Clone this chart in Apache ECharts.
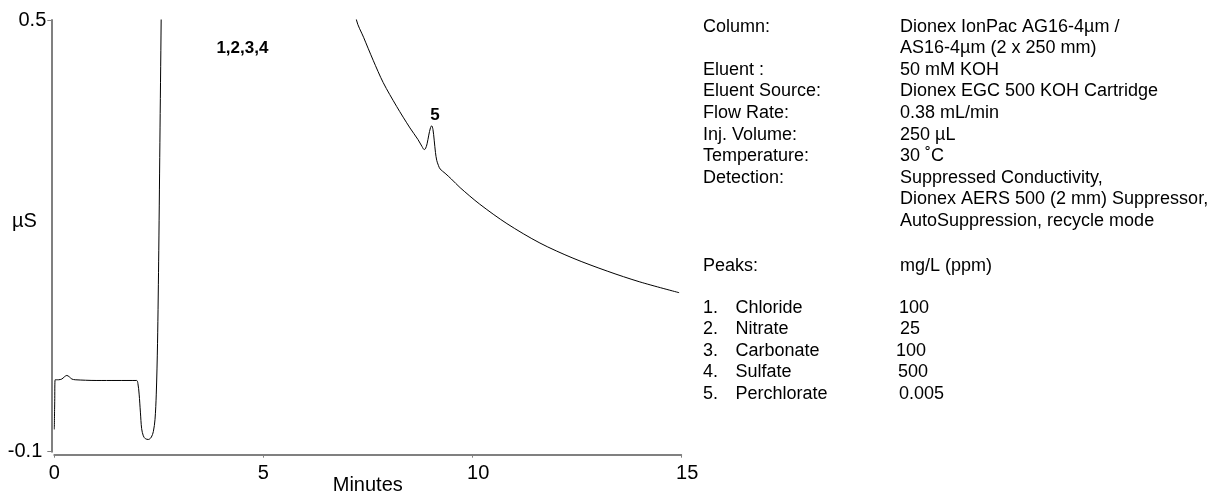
<!DOCTYPE html>
<html>
<head>
<meta charset="utf-8">
<script src="https://cdn.jsdelivr.net/npm/echarts@6/dist/echarts.min.js"></script>
<style>
  html, body { margin: 0; padding: 0; background: #fff; }
  #chart { width: 1210px; height: 493px; }
</style>
</head>
<body>
<div id="chart"></div>
<script>
// Retention time (min) and suppressed conductivity (µS) of the chromatogram trace
const minutes = [
  0.00, 0.01, 0.02, 0.10, 0.18, 0.24, 0.30, 0.36, 0.42, 0.50, 1.00, 1.50, 1.97,
  2.00, 2.03, 2.06, 2.09, 2.13, 2.18, 2.25, 2.32, 2.37, 2.41, 2.44, 2.47, 2.50, 2.53, 2.56,
  2.60, 2.70, 4.00, 6.50, 7.10,
  7.23, 7.40, 7.63, 7.87, 8.19, 8.51, 8.70, 8.80, 8.85, 8.88, 8.92, 8.96, 9.00, 9.03,
  9.06, 9.09, 9.12, 9.15, 9.19, 9.23, 9.35, 9.50, 9.71, 10.18, 10.83, 11.62, 12.41,
  13.23, 14.01, 14.95
];
const microSiemens = [
  -0.069, -0.030, 0.000, 0.000, 0.001, 0.004, 0.006, 0.004, 0.001, 0.000, -0.001, -0.001, -0.001,
  -0.005, -0.020, -0.045, -0.068, -0.078, -0.082, -0.083, -0.080, -0.072, -0.055, -0.020, 0.050, 0.180, 0.350, 0.520,
  0.800, 1.500, 3.000, 1.000, 0.560,
  0.500, 0.476, 0.444, 0.413, 0.380, 0.350, 0.334, 0.324, 0.320, 0.321, 0.328, 0.340, 0.350, 0.353,
  0.348, 0.333, 0.316, 0.305, 0.298, 0.293, 0.287, 0.279, 0.267, 0.244, 0.217, 0.190, 0.169,
  0.151, 0.136, 0.121
];

// Axis tick labels
const timeTicks = [0, 5, 10, 15];
const signalTicks = [-0.1, 0.5];

// Peak annotations: label, retention time, height
const peakTags = ['1,2,3,4', '5'];
const peakTagTimes = [4.50, 9.11];
const peakTagHeights = [0.461, 0.368];

// Method conditions
const conditionNames = [
  'Column:', '', 'Eluent :', 'Eluent Source:', 'Flow Rate:', 'Inj. Volume:',
  'Temperature:', 'Detection:', '', ''
];
const conditionValues = [
  'Dionex IonPac AG16-4µm /', 'AS16-4µm (2 x 250 mm)', '50 mM KOH',
  'Dionex EGC 500 KOH Cartridge', '0.38 mL/min', '250 µL', '30 ˚C',
  'Suppressed Conductivity,', 'Dionex AERS 500 (2 mm) Suppressor,',
  'AutoSuppression, recycle mode'
];

// Peak table
const peakNumbers = ['1.', '2.', '3.', '4.', '5.'];
const peakNames = ['Chloride', 'Nitrate', 'Carbonate', 'Sulfate', 'Perchlorate'];
const peakAmounts = ['100', '25', '100', '500', '0.005'];

const FONT = '"Liberation Sans", Arial, sans-serif';
const AXIS_GREY = '#808080';

const trace = minutes.map((t, i) => [t, microSiemens[i]]);

const chart = echarts.init(document.getElementById('chart'), null, { renderer: 'canvas' });

// Text block to the right of the plot
const textEls = [];
const txt = (s, x, y, extra) => textEls.push({
  type: 'text', x: x, y: y, silent: true,
  style: Object.assign({ text: s, fill: '#000', font: '18px ' + FONT, verticalAlign: 'middle', align: 'left' }, extra || {})
});
const ROW = 21.6;
const condY = conditionValues.map((_, i) => 26.7 + i * ROW);
conditionNames.forEach((s, i) => { if (s) txt(s, 703, condY[i]); });
conditionValues.forEach((s, i) => txt(s, 900, condY[i]));
txt('Peaks:', 703, 265.7);
txt('mg/L (ppm)', 900, 265.7);
const peakRowY = peakNames.map((_, i) => 307.7 + i * ROW);
const amountX = [899, 900, 896, 898, 899];
peakNames.forEach((s, i) => {
  txt(peakNumbers[i], 703, peakRowY[i]);
  txt(s, 735.5, peakRowY[i]);
  txt(peakAmounts[i], amountX[i], peakRowY[i]);
});
// y-axis unit
txt('µS', 12, 221, { font: '20px ' + FONT });

chart.setOption({
  animation: false,
  backgroundColor: '#fff',
  grid: {
    left: 54.3, right: 528.8, top: 20, bottom: 41.3,
    containLabel: false, outerBoundsMode: 'none'
  },
  xAxis: {
    type: 'value', min: 0, max: 15, interval: 5, offset: 3,
    axisLine: { show: true, onZero: false, lineStyle: { color: AXIS_GREY, width: 2 } },
    axisTick: { show: true, length: 3, lineStyle: { color: AXIS_GREY, width: 1 } },
    axisLabel: {
      color: '#000', fontSize: 20, fontFamily: FONT, margin: 9,
      formatter: v => (timeTicks.includes(v) ? (v >= 10 ? '{w|' + v + '}' : String(v)) : ''),
      rich: { w: { fontSize: 20, fontFamily: FONT, color: '#000', padding: [0, 0, 0, 12] } }
    },
    splitLine: { show: false },
    name: 'Minutes', nameLocation: 'middle', nameGap: 21, nameMoveOverlap: false,
    nameTextStyle: { color: '#000', fontSize: 20, fontFamily: FONT }
  },
  yAxis: {
    type: 'value', min: -0.1, max: 0.5, offset: 3,
    axisLine: { show: true, onZero: false, lineStyle: { color: AXIS_GREY, width: 2 } },
    axisTick: { show: true, length: 4, customValues: signalTicks, lineStyle: { color: AXIS_GREY, width: 1 } },
    axisLabel: {
      color: '#000', fontSize: 20, fontFamily: FONT, margin: 5,
      customValues: signalTicks,
      formatter: v => (v < 0 ? '{n|' + v + '}' : String(v)),
      rich: { n: { fontSize: 20, fontFamily: FONT, color: '#000', padding: [0, 4, 0, 0] } }
    },
    splitLine: { show: false }
  },
  series: [{
    type: 'line',
    data: trace,
    showSymbol: false,
    smooth: 0.3,
    clip: true,
    lineStyle: { color: '#000', width: 1 },
    silent: true
  }],
  graphic: textEls
});

// Peak numbers, placed through the chart's own coordinate system
const tagEls = peakTags.map((s, i) => {
  const p = chart.convertToPixel({ gridIndex: 0 }, [peakTagTimes[i], peakTagHeights[i]]);
  return {
    type: 'text', x: p[0], y: p[1], silent: true,
    style: { text: s, fill: '#000', font: 'bold 17px ' + FONT, align: 'center', verticalAlign: 'middle' }
  };
});
chart.setOption({ graphic: textEls.concat(tagEls) });
</script>
</body>
</html>
